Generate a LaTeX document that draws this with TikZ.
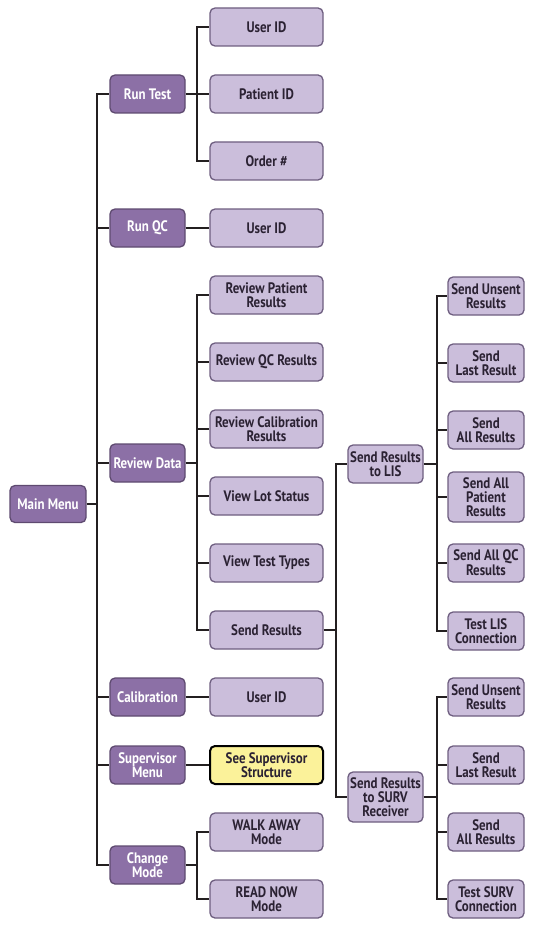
\documentclass[tikz,border=0pt]{standalone}
\usepackage{fontspec}
\setmainfont{PT Sans}[FakeStretch=0.85]
\definecolor{darkp}{HTML}{8C70A6}
\definecolor{darkpb}{HTML}{5E4A70}
\definecolor{lightp}{HTML}{CBBEDB}
\definecolor{lightpb}{HTML}{6E5E80}
\definecolor{txtd}{HTML}{2B2233}
\definecolor{yel}{HTML}{FBF29A}
\definecolor{wire}{HTML}{231F20}
\tikzset{
  base/.style={rounded corners=5pt, line width=1.3pt, align=center, inner sep=1pt,
    font=\bfseries\fontsize{15.2}{14}\selectfont, minimum height=38pt},
  darkbox/.style={base, fill=darkp, draw=darkpb, text=white, minimum width=75pt},
  lightbox/.style={base, fill=lightp, draw=lightpb, text=txtd, minimum width=113pt},
  smallbox/.style={base, fill=lightp, draw=lightpb, text=txtd, minimum width=75pt},
  yelbox/.style={base, fill=yel, draw=black, line width=2pt, text=txtd, minimum width=113pt},
  wirel/.style={draw=wire, line width=2pt}
}
\begin{document}
\begin{tikzpicture}[x=1pt,y=-1pt]
\useasboundingbox (0,0) rectangle (535,928);
% level 0
\node[darkbox, minimum width=76pt, minimum height=37pt] (main) at (48,504) {Main Menu};
% level 1
\node[darkbox] (runtest) at (147.5,94) {Run Test};
\node[darkbox] (runqc) at (147.5,228) {Run QC};
\node[darkbox] (review) at (147.5,463) {Review Data};
\node[darkbox] (calib) at (147.5,697) {Calibration};
\node[darkbox] (superv) at (147.5,765) {Supervisor\\Menu};
\node[darkbox] (change) at (147.5,865) {Change\\Mode};
% level 2
\node[lightbox] (uid1) at (266.5,27) {User ID};
\node[lightbox] (pid) at (266.5,94) {Patient ID};
\node[lightbox] (order) at (266.5,161) {Order \#};
\node[lightbox] (uid2) at (266.5,228) {User ID};
\node[lightbox] (rpr) at (266.5,295) {Review Patient\\Results};
\node[lightbox] (rqc) at (266.5,362) {Review QC Results};
\node[lightbox] (rcal) at (266.5,429) {Review Calibration\\Results};
\node[lightbox] (vls) at (266.5,496) {View Lot Status};
\node[lightbox] (vtt) at (266.5,563) {View Test Types};
\node[lightbox] (sres) at (266.5,630) {Send Results};
\node[lightbox] (uid3) at (266.5,697) {User ID};
\node[yelbox] (ssup) at (266.5,765) {See Supervisor\\Structure};
\node[lightbox] (walk) at (266.5,832) {WALK AWAY\\Mode};
\node[lightbox] (readn) at (266.5,899) {READ NOW\\Mode};
% level 3
\node[smallbox] (lis) at (385.5,464) {Send Results\\to LIS};
\node[smallbox, minimum height=50pt] (surv) at (385.5,797) {Send Results\\to SURV\\Receiver};
% level 4 LIS
\node[smallbox, minimum width=76pt] (l1) at (486,296) {Send Unsent\\Results};
\node[smallbox, minimum width=76pt] (l2) at (486,363) {Send\\Last Result};
\node[smallbox, minimum width=76pt] (l3) at (486,430) {Send\\All Results};
\node[smallbox, minimum width=76pt, minimum height=50pt] (l4) at (486,497) {Send All\\Patient\\Results};
\node[smallbox, minimum width=76pt] (l5) at (486,563) {Send All QC\\Results};
\node[smallbox, minimum width=76pt] (l6) at (486,631) {Test LIS\\Connection};
% level 4 SURV
\node[smallbox, minimum width=76pt] (s1) at (486,697) {Send Unsent\\Results};
\node[smallbox, minimum width=76pt] (s2) at (486,765) {Send\\Last Result};
\node[smallbox, minimum width=76pt] (s3) at (486,832) {Send\\All Results};
\node[smallbox, minimum width=76pt] (s4) at (486,899) {Test SURV\\Connection};
% bus coordinates
\coordinate (b0) at (97,504);
\coordinate (b1) at (197,94);
\coordinate (b2) at (197,463);
\coordinate (b3) at (197,865);
\coordinate (b4) at (336,630);
\coordinate (b5) at (437,464);
\coordinate (b6) at (437,797);
% connectors
\draw[wirel] (main.east) -- (b0);
\foreach \n in {runtest,runqc,review,calib,superv,change} \draw[wirel] (b0) |- (\n.west);
\draw[wirel] (runtest.east) -- (b1);
\foreach \n in {uid1,pid,order} \draw[wirel] (b1) |- (\n.west);
\draw[wirel] (runqc.east) -- (uid2.west);
\draw[wirel] (review.east) -- (b2);
\foreach \n in {rpr,rqc,rcal,vls,vtt,sres} \draw[wirel] (b2) |- (\n.west);
\draw[wirel] (calib.east) -- (uid3.west);
\draw[wirel] (superv.east) -- (ssup.west);
\draw[wirel] (change.east) -- (b3);
\foreach \n in {walk,readn} \draw[wirel] (b3) |- (\n.west);
\draw[wirel] (sres.east) -- (b4);
\foreach \n in {lis,surv} \draw[wirel] (b4) |- (\n.west);
\draw[wirel] (lis.east) -- (b5);
\foreach \n in {l1,l2,l3,l4,l5,l6} \draw[wirel] (b5) |- (\n.west);
\draw[wirel] (surv.east) -- (b6);
\foreach \n in {s1,s2,s3,s4} \draw[wirel] (b6) |- (\n.west);
\end{tikzpicture}
\end{document}
